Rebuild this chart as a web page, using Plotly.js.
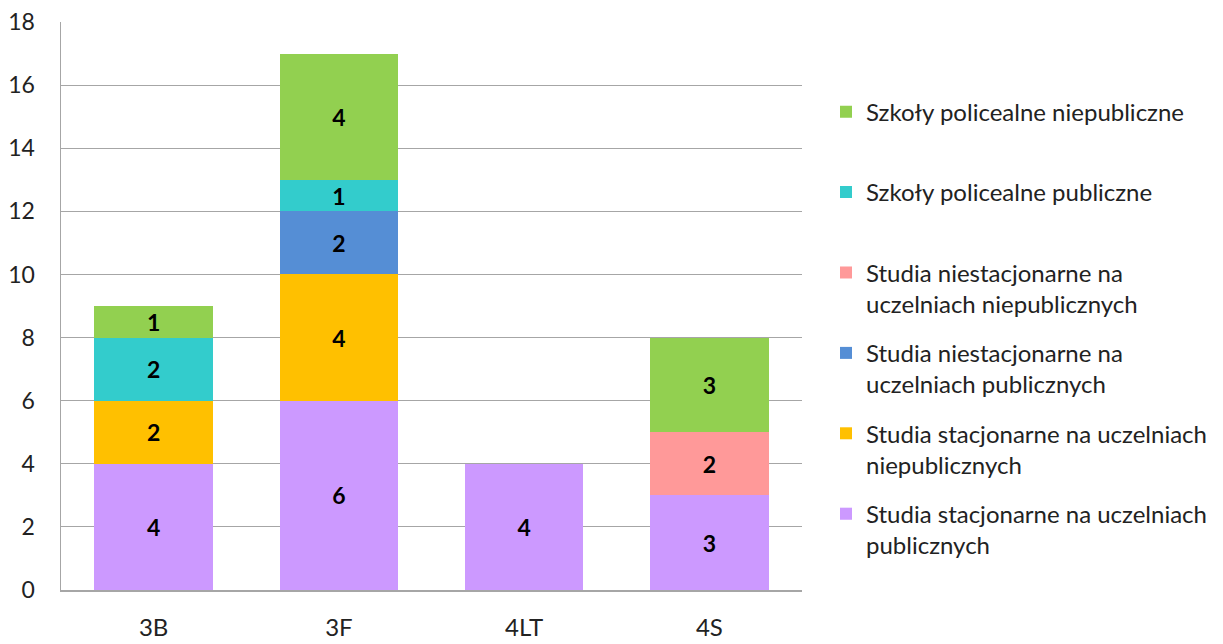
<!DOCTYPE html>
<html>
<head>
<meta charset="utf-8">
<script src="https://cdn.plot.ly/plotly-3.0.1.min.js"></script>
<style>html,body{margin:0;padding:0;background:#fff;}#chart{width:1223px;height:644px;}</style>
</head>
<body>
<div id="chart"></div>
<script>
const categories = ['3B', '3F', '4LT', '4S'];

const seriesNames = [
  'Studia stacjonarne na uczelniach<br>publicznych',
  'Studia stacjonarne na uczelniach<br>niepublicznych',
  'Studia niestacjonarne na<br>uczelniach publicznych',
  'Studia niestacjonarne na<br>uczelniach niepublicznych',
  'Szkoły policealne publiczne<br> ',
  'Szkoły policealne niepubliczne<br> '
];
const seriesColors = ['#CC99FF', '#FFC000', '#558ED5', '#FF9999', '#33CCCC', '#92D050'];

const stacjonarnePubliczne = [4, 6, 4, 3];
const stacjonarneNiepubliczne = [2, 4, 0, 0];
const niestacjonarnePubliczne = [0, 2, 0, 0];
const niestacjonarneNiepubliczne = [0, 0, 0, 2];
const policealnePubliczne = [2, 1, 0, 0];
const policealneNiepubliczne = [1, 4, 0, 3];

const seriesValues = [stacjonarnePubliczne, stacjonarneNiepubliczne, niestacjonarnePubliczne,
  niestacjonarneNiepubliczne, policealnePubliczne, policealneNiepubliczne];

const FONT = 'Lato, "Open Sans", sans-serif';

const traces = seriesValues.map((vals, i) => ({
  type: 'bar',
  name: seriesNames[i],
  legendgroup: 'g' + i,
  legendrank: 1000 - i,
  x: categories,
  y: vals,
  text: vals.map(v => v ? String(v) : ''),
  textposition: 'inside',
  insidetextanchor: 'middle',
  textangle: 0,
  constraintext: 'none',
  textfont: {family: FONT, size: 23, color: '#000', weight: 'bold'},
  marker: {color: seriesColors[i], line: {width: 0}},
  hoverinfo: 'x+y+name'
}));

const layout = {
  width: 1223,
  height: 644,
  margin: {l: 61, r: 420, t: 22, b: 54},
  barmode: 'stack',
  bargap: 0.36,
  paper_bgcolor: '#fff',
  plot_bgcolor: '#fff',
  font: {family: FONT, color: '#222'},
  showlegend: true,
  legend: {
    traceorder: 'grouped',
    tracegroupgap: 15,
    valign: 'top',
    x: 1.031,
    xanchor: 'left',
    y: 0.881,
    yanchor: 'top',
    font: {family: FONT, size: 24, color: '#222'},
    bgcolor: 'rgba(0,0,0,0)'
  },
  xaxis: {
    type: 'category',
    showgrid: false,
    showline: true,
    linecolor: '#A6A6A6',
    linewidth: 1.5,
    ticks: '',
    ticklabelstandoff: 16,
    tickfont: {family: FONT, size: 24, color: '#222'},
    zeroline: false
  },
  yaxis: {
    range: [0, 18],
    dtick: 2,
    showgrid: true,
    gridcolor: '#A6A6A6',
    gridwidth: 1,
    showline: true,
    linecolor: '#A6A6A6',
    linewidth: 1.5,
    ticks: '',
    ticklabelstandoff: 20,
    tickfont: {family: FONT, size: 23, color: '#222'},
    zeroline: false
  }
};

Plotly.newPlot('chart', traces, layout, {displayModeBar: false, staticPlot: true});
</script>
</body>
</html>
